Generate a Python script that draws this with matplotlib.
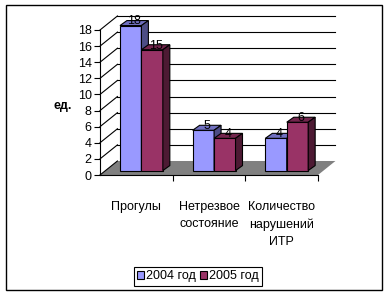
import matplotlib
matplotlib.use("Agg")
import matplotlib.pyplot as plt
from matplotlib.patches import Polygon, Rectangle, Patch

plt.rcParams['font.family'] = ['Liberation Sans', 'DejaVu Sans']

categories = ['Прогулы', 'Нетрезвое\nсостояние', 'Количество\nнарушений\nИТР']
series_names = ['2004 год', '2005 год']
values_2004 = [18, 5, 4]
values_2005 = [15, 4, 6]
y_ticks = list(range(0, 19, 2))

front_colors = ['#9999FF', '#993366']
top_colors = ['#7070C0', '#73264D']
side_colors = ['#4D4D85', '#4D1A33']

# pseudo 3d offsets in data units
wall_dx, wall_dy = 0.24, 1.74
bar_fx, bar_fy = 0.07, 0.55
bar_dx, bar_dy = 0.096, 0.62
bar_w = 0.295

fig = plt.figure(figsize=(3.88, 2.96), dpi=100)
fig.patches.append(Rectangle((6 / 388, 1 - 290 / 296), 376 / 388, 285 / 296,
                             transform=fig.transFigure, fill=False,
                             edgecolor='black', lw=1))

ax = fig.add_axes([100 / 388, 121 / 296, 218 / 388, 145 / 296])
ax.set_xlim(0, 3)
ax.set_ylim(0, 18)
ax.patch.set_visible(False)
for s in ['top', 'right']:
    ax.spines[s].set_visible(False)
ax.spines['left'].set_linewidth(0.8)
ax.spines['bottom'].set_linewidth(0.8)

ax.set_yticks(y_ticks)
ax.set_yticklabels([str(t) for t in y_ticks], fontsize=9)
ax.set_xticks([1, 2, 3])
ax.set_xticklabels([])
ax.tick_params(axis='both', direction='out', length=4, width=0.8, pad=2)

n = len(categories)
# floor
ax.add_patch(Polygon([(0, 0), (wall_dx, wall_dy), (n + wall_dx, wall_dy), (n, 0)],
                     closed=True, facecolor='#808080', edgecolor='none',
                     clip_on=False, zorder=1))
# side wall diagonals and back wall gridlines
for t in y_ticks:
    ax.plot([0, wall_dx], [t, t + wall_dy], color='black', lw=0.8,
            clip_on=False, zorder=1)
    if t > 0:
        ax.plot([wall_dx, n + wall_dx], [t + wall_dy, t + wall_dy],
                color='black', lw=0.8, clip_on=False, zorder=1)

z = 3
for i in range(n):
    for j, vals in enumerate([values_2004, values_2005]):
        v = vals[i]
        x0 = i + 0.5 - bar_w + j * bar_w + bar_fx
        x1 = x0 + bar_w
        y0 = bar_fy
        y1 = v + bar_fy
        ax.bar(x0, v, width=bar_w, bottom=y0, align='edge',
               color=front_colors[j], edgecolor='black', lw=0.8,
               clip_on=False, zorder=z)
        ax.add_patch(Polygon([(x0, y1), (x0 + bar_dx, y1 + bar_dy),
                              (x1 + bar_dx, y1 + bar_dy), (x1, y1)],
                             closed=True, facecolor=top_colors[j],
                             edgecolor='black', lw=0.8, clip_on=False, zorder=z))
        ax.add_patch(Polygon([(x1, y0), (x1, y1), (x1 + bar_dx, y1 + bar_dy),
                              (x1 + bar_dx, y0 + bar_dy)],
                             closed=True, facecolor=side_colors[j],
                             edgecolor='black', lw=0.8, clip_on=False, zorder=z))
        ax.text(x0 + bar_w / 2 + bar_dx / 2, y1 + bar_dy - 0.1, str(v),
                ha='center', va='center', fontsize=9, zorder=z + 1)
        z += 1

for i, c in enumerate(categories):
    ax.text(i + 0.5, -3.2, c, ha='center', va='top', fontsize=9,
            multialignment='center', linespacing=1.6)

fig.text(63 / 388, 1 - 106 / 296, 'ед.', ha='center', va='center',
         fontsize=9, fontweight='bold')

handles = [Patch(facecolor=front_colors[k], edgecolor='black', lw=0.8)
           for k in range(2)]
leg = fig.legend(handles, series_names, loc='center',
                 bbox_to_anchor=(198 / 388, 1 - 276.5 / 296), ncol=2,
                 fontsize=9, frameon=True, fancybox=False, framealpha=1,
                 edgecolor='black', handlelength=0.6, handleheight=0.6,
                 handletextpad=0.15, columnspacing=0.3, borderpad=0.25,
                 borderaxespad=0)
leg.get_frame().set_linewidth(0.8)

fig.savefig('out.png', dpi=100)
